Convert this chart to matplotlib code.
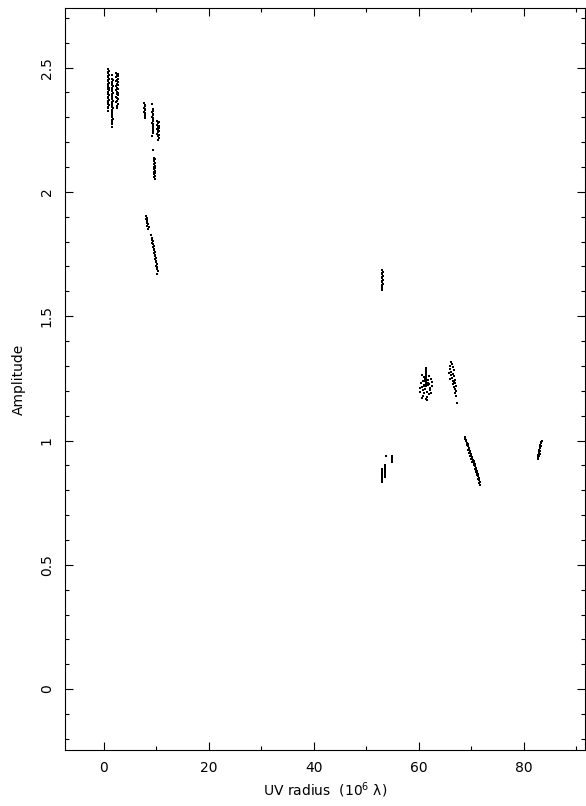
import matplotlib
matplotlib.use("Agg")
import matplotlib.pyplot as plt
from matplotlib.ticker import MultipleLocator

# UV radius (10^6 lambda) and amplitude per visibility group
a1_x = [0.8, 0.9, 0.7, 0.8, 0.9, 0.7, 0.8, 0.9, 0.8, 0.7, 0.9, 0.8, 0.8, 0.7, 0.9, 0.8,
        0.9, 0.7, 0.8, 0.8, 0.9, 0.7, 0.8, 0.9, 0.8, 0.7, 0.8, 0.9, 0.8, 0.8, 0.8]
a1_y = [2.493, 2.488, 2.483, 2.479, 2.472, 2.467, 2.463, 2.456, 2.451, 2.447, 2.440,
        2.436, 2.431, 2.424, 2.420, 2.415, 2.409, 2.404, 2.398, 2.393, 2.388, 2.382,
        2.377, 2.371, 2.366, 2.361, 2.355, 2.349, 2.343, 2.336, 2.327]

a2_x = [1.5, 1.6, 1.7, 1.6, 1.5, 1.6, 1.7, 1.6, 1.6, 1.5, 1.7, 1.6, 1.6, 1.5, 1.6, 1.7,
        1.6, 1.6, 1.5, 1.6, 1.7, 1.6, 1.6, 1.5, 1.6, 1.6, 1.7, 1.6, 1.6, 1.6, 1.6]
a2_y = [2.472, 2.455, 2.449, 2.443, 2.436, 2.430, 2.425, 2.418, 2.411, 2.405, 2.399,
        2.393, 2.386, 2.380, 2.374, 2.367, 2.361, 2.355, 2.348, 2.342, 2.336, 2.329,
        2.323, 2.316, 2.309, 2.302, 2.295, 2.288, 2.281, 2.272, 2.263]

a3_x = [2.4, 2.6, 2.5, 2.7, 2.4, 2.6, 2.5, 2.3, 2.6, 2.5, 2.7, 2.4, 2.5, 2.6, 2.4, 2.5,
        2.7, 2.5, 2.6, 2.4, 2.5, 2.6, 2.5, 2.4, 2.6, 2.5, 2.5]
a3_y = [2.479, 2.475, 2.470, 2.466, 2.461, 2.456, 2.451, 2.446, 2.441, 2.436, 2.431,
        2.426, 2.420, 2.415, 2.410, 2.404, 2.399, 2.394, 2.388, 2.383, 2.377, 2.372,
        2.366, 2.360, 2.353, 2.346, 2.339]

b1_x = [7.7, 7.9, 7.8, 7.7, 7.9, 7.8, 7.7, 7.8, 7.9, 7.8, 7.8, 7.9]
b1_y = [2.356, 2.350, 2.345, 2.339, 2.334, 2.329, 2.323, 2.318, 2.313, 2.308, 2.302, 2.297]

b2_x = [9.2, 9.3, 9.3, 9.2, 9.4, 9.3, 9.2, 9.4, 9.3, 9.3, 9.2, 9.4, 9.3, 9.3, 9.4, 9.3,
        9.3, 9.2]
b2_y = [2.352, 2.332, 2.326, 2.320, 2.314, 2.308, 2.302, 2.296, 2.290, 2.284, 2.278,
        2.272, 2.266, 2.260, 2.253, 2.246, 2.237, 2.226]

b3_x = [10.2, 10.4, 10.3, 10.2, 10.4, 10.3, 10.5, 10.2, 10.3, 10.4, 10.3, 10.2, 10.4,
        10.3, 10.4, 10.3]
b3_y = [2.286, 2.281, 2.276, 2.271, 2.266, 2.262, 2.257, 2.253, 2.249, 2.244, 2.240,
        2.235, 2.230, 2.224, 2.217, 2.208]

b4_x = [9.4, 9.6, 9.7, 9.5, 9.6, 9.8, 9.5, 9.7, 9.6, 9.8, 9.6, 9.7, 9.5, 9.7, 9.6, 9.8,
        9.6, 9.7]
b4_y = [2.168, 2.138, 2.133, 2.128, 2.123, 2.117, 2.112, 2.106, 2.101, 2.096, 2.091,
        2.086, 2.081, 2.076, 2.071, 2.066, 2.060, 2.052]

c_x = [8.1, 8.2, 8.1, 8.3, 8.2, 8.3, 8.4, 8.3, 8.5, 8.4, 8.9, 9.1, 9.2, 9.3, 9.2, 9.4,
       9.5, 9.4, 9.6, 9.5, 9.7, 9.6, 9.8, 9.7, 9.9, 9.8, 10.0, 9.9, 10.1, 10.0, 10.2,
       10.1, 10.3, 10.2]
c_y = [1.902, 1.897, 1.892, 1.887, 1.882, 1.877, 1.871, 1.864, 1.857, 1.849, 1.826,
       1.813, 1.806, 1.801, 1.795, 1.789, 1.783, 1.777, 1.772, 1.766, 1.760, 1.754,
       1.748, 1.742, 1.736, 1.730, 1.723, 1.717, 1.711, 1.704, 1.697, 1.689, 1.680, 1.668]

d_x = [53.0, 53.1, 53.0, 52.9, 53.1, 53.0, 53.0, 53.1, 52.9, 53.0, 53.1, 53.0, 53.0,
       52.9, 53.0]
d_y = [1.684, 1.678, 1.673, 1.668, 1.663, 1.657, 1.652, 1.647, 1.641, 1.636, 1.630,
       1.625, 1.619, 1.612, 1.604]

e_x = [61.4, 61.4, 61.4, 61.4, 61.4, 61.4, 61.4, 61.4, 61.4, 61.4, 61.4, 61.4,
       60.6, 61.0, 61.9, 62.3, 60.8, 61.7, 62.5, 60.4, 61.1, 62.0, 60.9, 61.8, 62.4,
       60.5, 61.2, 62.1, 60.7, 61.6, 62.2, 60.3, 61.0, 61.9, 60.8, 61.5, 62.3, 60.6,
       61.3, 60.9, 61.8, 61.1, 60.2, 61.6]
e_y = [1.292, 1.284, 1.277, 1.270, 1.263, 1.256, 1.250, 1.244, 1.238, 1.232, 1.226,
       1.219, 1.262, 1.255, 1.258, 1.247, 1.240, 1.244, 1.236, 1.231, 1.238, 1.229,
       1.222, 1.225, 1.219, 1.214, 1.207, 1.212, 1.202, 1.196, 1.205, 1.195, 1.190,
       1.186, 1.181, 1.176, 1.192, 1.170, 1.166, 1.218, 1.233, 1.249, 1.210, 1.162]

f_x = [66.1, 66.3, 65.9, 66.4, 66.0, 66.6, 66.2, 65.8, 66.5, 66.1, 66.7, 66.3, 66.0,
       66.8, 66.4, 66.6, 66.9, 66.5, 67.0, 66.7, 66.8, 67.1, 66.9, 67.0, 67.2]
f_y = [1.317, 1.308, 1.300, 1.295, 1.287, 1.283, 1.277, 1.272, 1.268, 1.262, 1.258,
       1.253, 1.249, 1.244, 1.240, 1.235, 1.230, 1.226, 1.220, 1.214, 1.206, 1.199,
       1.192, 1.178, 1.150]

g_x = [68.7, 68.8, 69.0, 68.9, 69.1, 69.3, 69.2, 69.4, 69.5, 69.6, 69.4, 69.7, 69.8,
       69.6, 69.9, 70.0, 69.8, 70.1, 70.2, 70.0, 70.3, 70.4, 70.2, 70.5, 70.6, 70.4,
       70.7, 70.8, 70.6, 70.9, 71.0, 70.8, 71.1, 71.2, 71.0, 71.3, 71.4, 71.2, 71.5,
       71.6, 71.4, 71.7]
g_y = [1.014, 1.007, 1.001, 0.996, 0.990, 0.985, 0.980, 0.976, 0.971, 0.966, 0.962,
       0.958, 0.953, 0.949, 0.945, 0.941, 0.937, 0.933, 0.929, 0.925, 0.920, 0.916,
       0.912, 0.908, 0.904, 0.900, 0.896, 0.891, 0.887, 0.883, 0.879, 0.875, 0.870,
       0.865, 0.861, 0.856, 0.851, 0.846, 0.840, 0.834, 0.829, 0.822]

h_x = [83.4, 83.2, 83.3, 83.1, 83.2, 83.0, 83.1, 82.9, 83.0, 82.8, 82.9, 82.7, 82.8,
       82.6, 82.7, 82.9, 83.0]
h_y = [0.998, 0.993, 0.988, 0.983, 0.978, 0.973, 0.968, 0.963, 0.958, 0.953, 0.948,
       0.943, 0.938, 0.933, 0.926, 0.960, 0.945]

i1_x = [52.9, 53.0, 52.9, 53.0, 52.9, 53.0, 52.9, 53.0, 52.9, 53.0, 53.0]
i1_y = [0.884, 0.879, 0.874, 0.869, 0.864, 0.859, 0.854, 0.849, 0.844, 0.839, 0.833]
i2_x = [53.7, 53.5, 53.6, 53.5, 53.6, 53.5, 53.6, 53.5, 53.6, 53.5, 53.6]
i2_y = [0.937, 0.903, 0.898, 0.893, 0.888, 0.883, 0.878, 0.872, 0.866, 0.860, 0.853]
i3_x = [54.8, 54.9, 54.8, 54.9, 54.8, 54.9]
i3_y = [0.936, 0.931, 0.926, 0.922, 0.917, 0.913]

groups = [(a1_x, a1_y), (a2_x, a2_y), (a3_x, a3_y), (b1_x, b1_y), (b2_x, b2_y),
          (b3_x, b3_y), (b4_x, b4_y), (c_x, c_y), (d_x, d_y), (e_x, e_y),
          (f_x, f_y), (g_x, g_y), (h_x, h_y), (i1_x, i1_y), (i2_x, i2_y),
          (i3_x, i3_y)]

fig = plt.figure(figsize=(5.86, 8.06), dpi=100)
ax = fig.add_axes([0.111, 0.0695, 0.887, 0.9206])

for gx, gy in groups:
    ax.plot(gx, gy, ls="none", marker="s", ms=1.6, mew=0, color="black")

ax.set_xlim(-7.4, 91.6)
ax.set_ylim(-0.245, 2.74)

ax.xaxis.set_major_locator(MultipleLocator(20))
ax.xaxis.set_minor_locator(MultipleLocator(10))
ax.yaxis.set_major_locator(MultipleLocator(0.5))
ax.yaxis.set_minor_locator(MultipleLocator(0.1))
ax.set_yticks([0, 0.5, 1, 1.5, 2, 2.5])
ax.set_yticklabels(["0", "0.5", "1", "1.5", "2", "2.5"], rotation=90, va="center")

ax.tick_params(which="both", direction="in", top=True, right=True, width=0.8,
               labelsize=10)
ax.tick_params(which="major", length=5.8)
ax.tick_params(which="minor", length=3)
ax.tick_params(axis="x", pad=8)
ax.tick_params(axis="y", pad=8)
for s in ax.spines.values():
    s.set_linewidth(0.8)

ax.set_xlabel("UV radius  (10$^{6}$ λ)", fontsize=10, labelpad=4)
ax.set_ylabel("Amplitude", fontsize=10, labelpad=10)

fig.savefig("out.png", dpi=100)
